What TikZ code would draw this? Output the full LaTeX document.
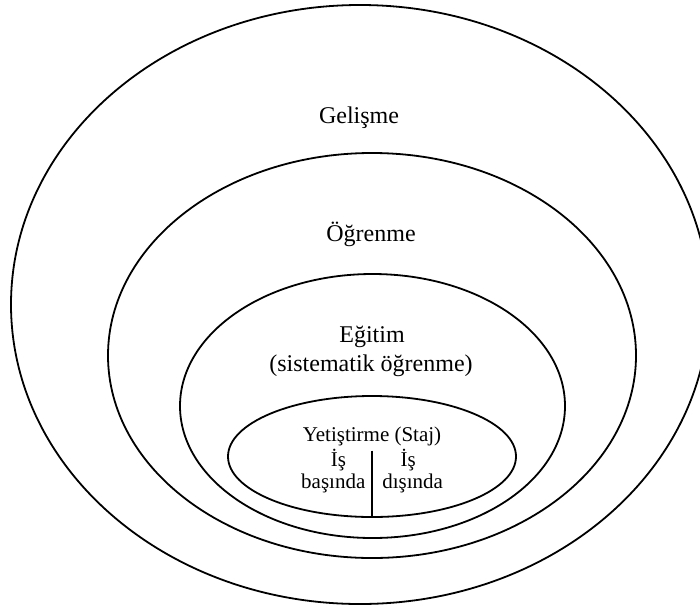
\documentclass[tikz,border=0pt]{standalone}
\usepackage{fontspec}
\setmainfont{Liberation Serif}
\usetikzlibrary{shapes.geometric}
\tikzset{
  ring/.style={draw, ellipse, line width=1.8pt, inner sep=0pt},
  bigtxt/.style={font=\fontsize{24}{29.5}\selectfont, anchor=base, inner sep=0pt, align=center},
  smalltxt/.style={font=\fontsize{21}{22}\selectfont, anchor=base, inner sep=0pt},
  divider/.style={line width=1.8pt}
}
\begin{document}
\begin{tikzpicture}[x=1pt,y=-1pt]
\useasboundingbox (0,0) rectangle (700,608);
\clip (0,0) rectangle (700,608);
\node[ring, minimum width=698pt, minimum height=599pt] (gel) at (360,304.5) {};
\node[ring, minimum width=528pt, minimum height=405pt] (ogr) at (372,355.5) {};
\node[ring, minimum width=385pt, minimum height=264pt] (egi) at (372.5,406) {};
\node[ring, minimum width=288pt, minimum height=121pt] (yet) at (372,456.5) {};
\node[bigtxt] (tgel) at (359,123) {Gelişme};
\node[bigtxt] (togr) at (371,241) {Öğrenme};
\node[bigtxt] (tegi) at (372,342) {Eğitim};
\node[bigtxt] (tsis) at (371,371) {(sistematik öğrenme)};
\node[smalltxt] (tyet) at (372,441.7) {Yetiştirme (Staj)};
\node[smalltxt] (tis1) at (338.5,466.7) {İş};
\node[smalltxt] (tbas) at (333.3,488.3) {başında};
\node[smalltxt] (tis2) at (408.3,466.7) {İş};
\node[smalltxt] (tdis) at (412.7,488.3) {dışında};
\coordinate (ltop) at (372.3,450.7);
\draw[divider] (ltop) -- (ltop |- yet.south);
\end{tikzpicture}
\end{document}
